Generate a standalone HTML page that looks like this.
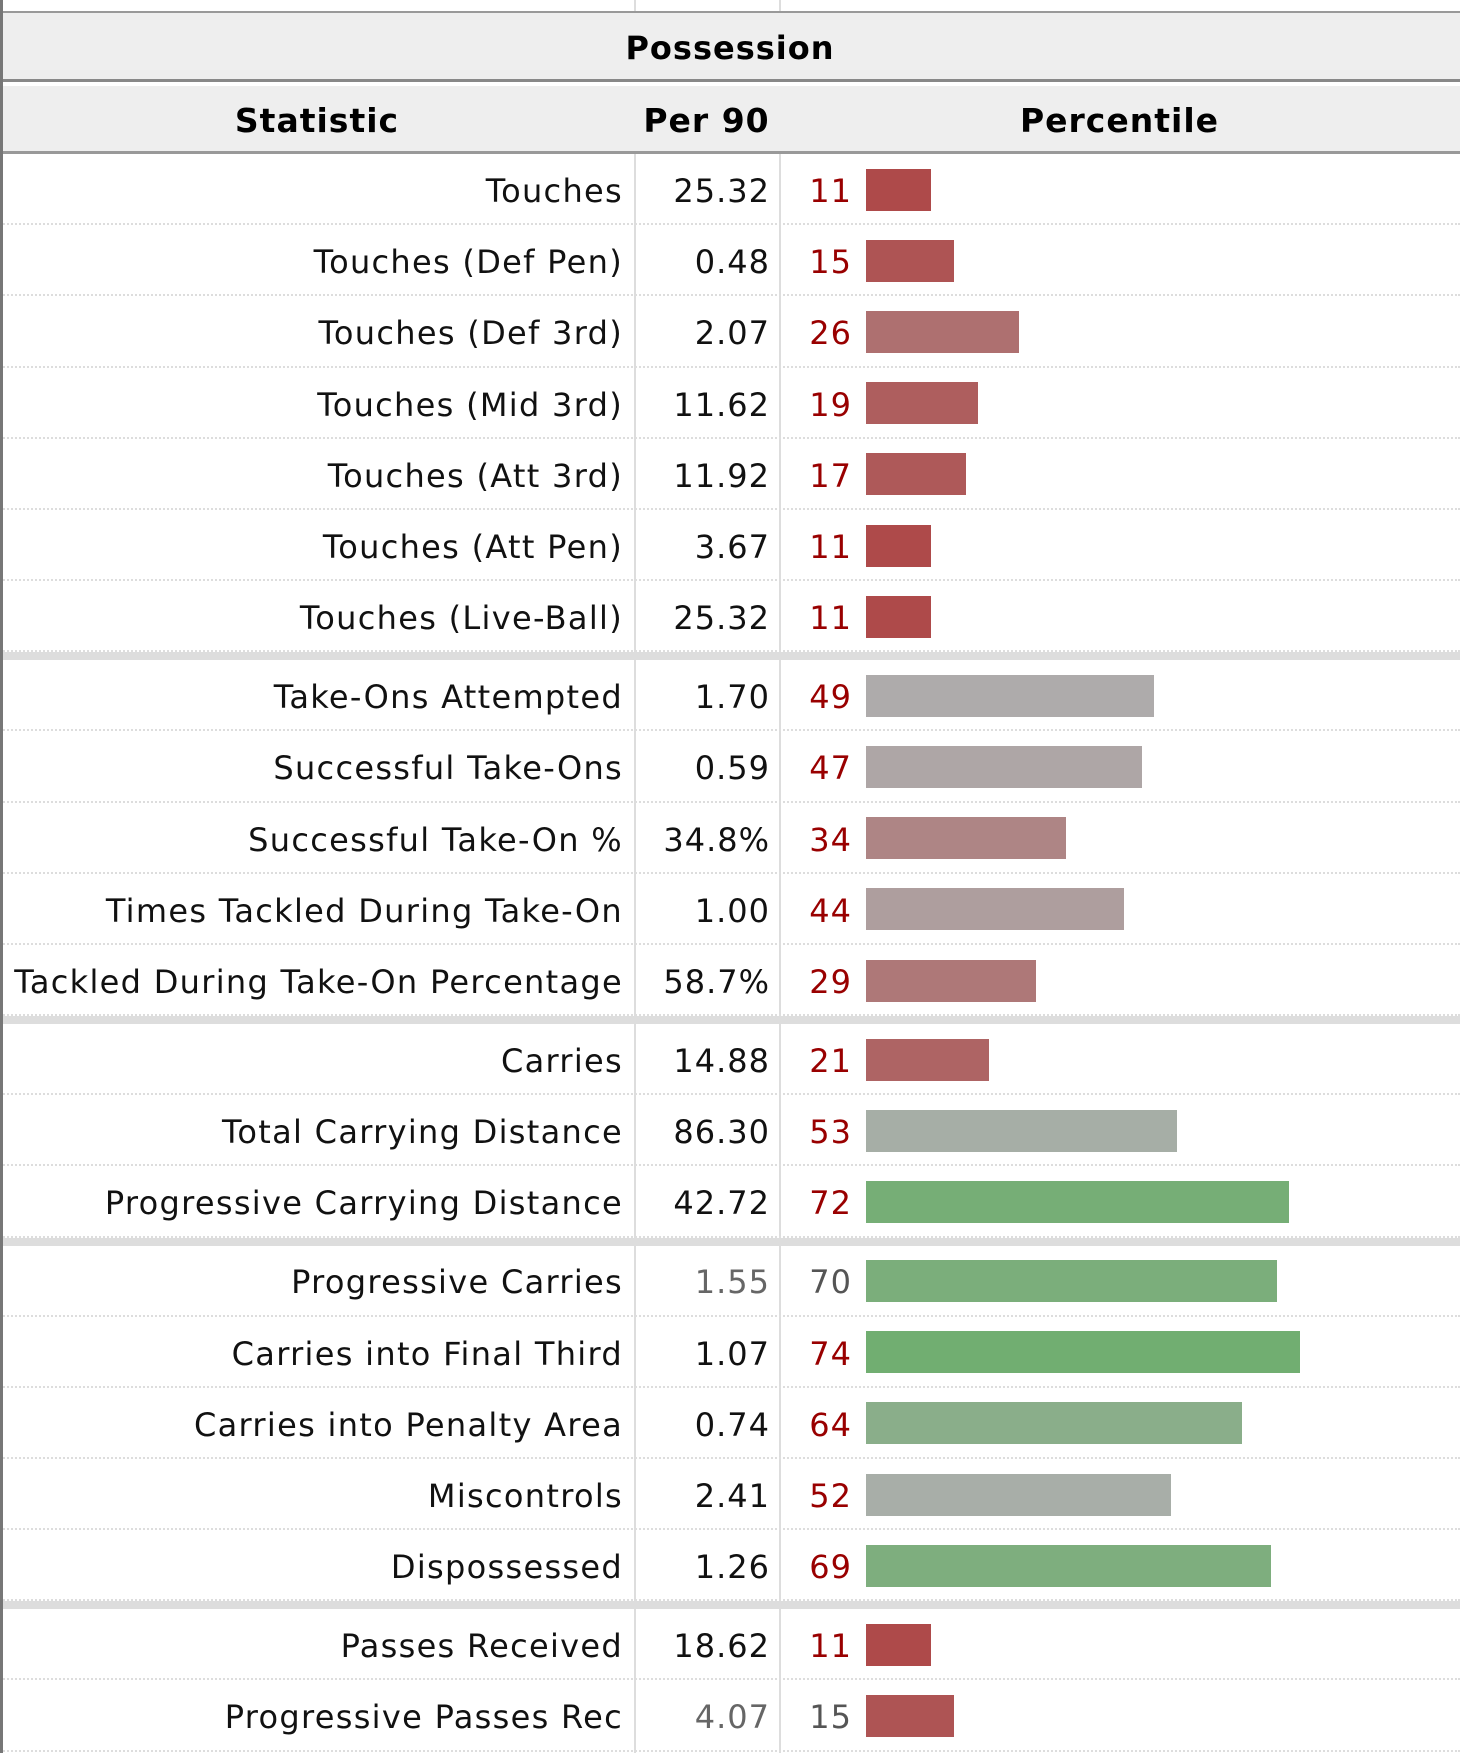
<!DOCTYPE html>
<html><head><meta charset="utf-8">
<style>
html,body{margin:0;padding:0;background:#fff;width:1460px;height:1753px;overflow:hidden;}
body{font-family:"DejaVu Sans","Liberation Sans",sans-serif;position:relative;}
.abs{position:absolute;}
#title{left:0;top:11px;width:1460px;height:71px;background:#eeeeee;border-top:2px solid #999;border-bottom:3px solid #888;box-sizing:border-box;text-align:center;font-weight:bold;font-size:32px;letter-spacing:1px;line-height:70px;color:#000;}
#header{left:0;top:86px;width:1460px;height:68px;background:#eeeeee;border-bottom:3px solid #999;box-sizing:border-box;font-weight:bold;font-size:33px;letter-spacing:1px;color:#000;}
.hcell{position:absolute;top:0;height:65px;line-height:70px;text-align:center;}
.vline{position:absolute;width:2px;background:#ddd;}
.row{position:absolute;left:0;width:1460px;border-bottom:2px dotted #ddd;box-sizing:border-box;}
.stat{position:absolute;right:837px;font-size:32px;letter-spacing:1.3px;color:#111;white-space:nowrap;}
.val{position:absolute;right:690px;font-size:32px;letter-spacing:1px;color:#111;}
.pct{position:absolute;right:608px;font-size:32px;letter-spacing:1px;color:#990000;}
.bar{position:absolute;left:866px;height:42px;}
.sep{position:absolute;left:0;width:1460px;height:8px;background:#dddddd;}
#lborder{left:0;top:0;width:3px;height:1753px;background:#777;}
</style></head>
<body>
<div class="abs" id="title">Possession</div>
<div class="abs" id="header">
  <div class="hcell" style="left:0;width:634px">Statistic</div>
  <div class="hcell" style="left:634px;width:145px">Per 90</div>
  <div class="hcell" style="left:779px;width:681px">Percentile</div>
</div>
<div id="rows"></div>
<div class="abs" id="lborder"></div>
<script>
const statNames = ["Touches","Touches (Def Pen)","Touches (Def 3rd)","Touches (Mid 3rd)","Touches (Att 3rd)","Touches (Att Pen)","Touches (Live-Ball)","Take-Ons Attempted","Successful Take-Ons","Successful Take-On %","Times Tackled During Take-On","Tackled During Take-On Percentage","Carries","Total Carrying Distance","Progressive Carrying Distance","Progressive Carries","Carries into Final Third","Carries into Penalty Area","Miscontrols","Dispossessed","Passes Received","Progressive Passes Rec"];
const per90 = ["25.32","0.48","2.07","11.62","11.92","3.67","25.32","1.70","0.59","34.8%","1.00","58.7%","14.88","86.30","42.72","1.55","1.07","0.74","2.41","1.26","18.62","4.07"];
const percentiles = [11,15,26,19,17,11,11,49,47,34,44,29,21,53,72,70,74,64,52,69,11,15];
const groupSizes = [7,5,3,5,2];
const mutedRows = [15,21];

const rowH = 71.2, sepH = 7.8, top0 = 154, barScale = 5.87;
function barColor(p){
  if(p<50){const g=Math.round(Math.min(174,74+(p-11)*2.55));return `rgb(174,${g},${g})`;}
  const r=Math.round(Math.max(100,168-(p-52)*2.5));return `rgb(${r},174,${r})`;
}
const container=document.getElementById('rows');
let y=top0, idx=0;
groupSizes.forEach((n,gi)=>{
  for(let k=0;k<n;k++,idx++){
    const i=idx;
    const row=document.createElement('div');
    row.className='row';
    
    
    row.style.top=y+'px';row.style.height=rowH+'px';
    const lh=(rowH+4)+'px';
    const s=document.createElement('div');s.className='stat';s.textContent=statNames[i];
    s.style.lineHeight=lh;
    
    
    const v=document.createElement('div');v.className='val';v.textContent=per90[i];v.style.lineHeight=lh;
    
    
    const p=document.createElement('div');p.className='pct';p.textContent=percentiles[i];p.style.lineHeight=lh;
    
    
    if(mutedRows.includes(i)){p.style.color='#555';v.style.color='#666';}
    const b=document.createElement('div');b.className='bar';
    
    
    b.style.top=((rowH-42)/2)+'px';
    b.style.width=(percentiles[i]*barScale)+'px';
    b.style.background=barColor(percentiles[i]);
    row.append(s,v,p,b);
    container.appendChild(row);
    y+=rowH;
  }
  if(gi<groupSizes.length-1){
    const sp=document.createElement('div');sp.className='sep';sp.style.top=y+'px';
    
    
    container.appendChild(sp);
    y+=sepH;
  }
});
[634,779].forEach(x=>{
  const l=document.createElement('div');l.className='vline';
  
  
  l.style.left=x+'px';l.style.top='154px';l.style.height='1600px';
  container.appendChild(l);
  const t=document.createElement('div');t.className='vline';
  
  
  t.style.left=x+'px';t.style.top='0px';t.style.height='11px';
  container.appendChild(t);
});
</script>
</body></html>
